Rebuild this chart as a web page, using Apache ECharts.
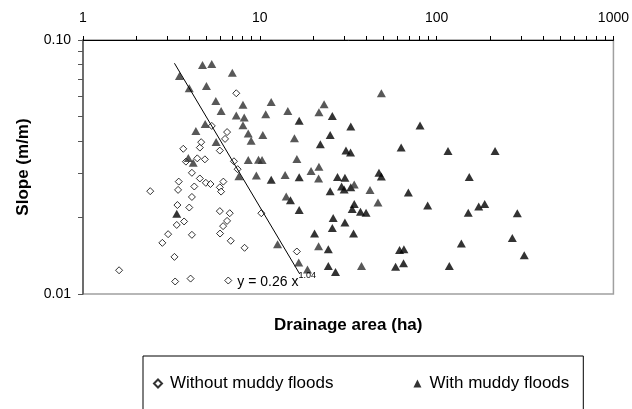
<!DOCTYPE html>
<html><head><meta charset="utf-8">
<script src="https://cdn.jsdelivr.net/npm/echarts@6/dist/echarts.min.js"></script>
<style>html,body{margin:0;padding:0;background:#fff}#c{width:632px;height:409px}</style>
</head><body><div id="c"></div>
<script>
// ---- data ----
const xTickValues = [1,2,3,4,5,6,7,8,9,10,20,30,40,50,60,70,80,90,100,200,300,400,500,600,700,800,900,1000];
const xLabelValues = [1,10,100,1000];
const yTickValues = [0.01,0.02,0.03,0.04,0.05,0.06,0.07,0.08,0.09,0.1];
const yLabelValues = [0.01,0.1];

const withoutFloods = [[1.60,0.0124],[2.40,0.0254],[3.32,0.0112],[4.06,0.0115],[6.63,0.0113],[3.29,0.0140],[2.81,0.0159],[3.03,0.0172],[3.39,0.0187],[3.73,0.0193],[4.13,0.0171],[3.42,0.0224],[3.99,0.0219],[4.13,0.0241],[3.45,0.0257],[3.48,0.0277],[4.26,0.0265],[4.13,0.0300],[4.58,0.0285],[4.95,0.0274],[5.26,0.0271],[5.94,0.0263],[6.04,0.0253],[6.22,0.0277],[3.69,0.0373],[3.82,0.0332],[4.43,0.0342],[4.58,0.0377],[4.66,0.0396],[4.89,0.0339],[5.94,0.0367],[6.36,0.0408],[6.53,0.0434],[5.35,0.0459],[7.14,0.0333],[7.49,0.0310],[5.94,0.0212],[6.76,0.0208],[6.53,0.0194],[6.20,0.0185],[5.96,0.0173],[6.85,0.0162],[8.20,0.0152],[7.36,0.0617],[10.2,0.0208],[16.2,0.0147]];

const withFloodsGrey = [[4.74,0.0797],[5.35,0.0804],[6.99,0.0743],[3.51,0.0722],[3.99,0.0645],[4.99,0.0659],[5.64,0.0575],[6.04,0.0525],[7.36,0.0504],[8.03,0.0556],[8.16,0.0495],[11.6,0.0570],[10.8,0.0510],[8.03,0.0462],[8.60,0.0428],[8.93,0.0401],[10.4,0.0423],[4.91,0.0467],[4.35,0.0438],[5.66,0.0397],[3.94,0.0343],[4.20,0.0329],[8.60,0.0337],[9.83,0.0338],[10.3,0.0337],[7.62,0.0291],[9.56,0.0293],[12.6,0.0157],[14.4,0.0525],[15.7,0.0410],[23.1,0.0558],[21.6,0.0519],[48.7,0.0617],[16.2,0.0340],[13.9,0.0294],[19.5,0.0305],[21.6,0.0317],[21.5,0.0285],[34.2,0.0270],[42.0,0.0257],[46.6,0.0229],[14.1,0.0242],[21.5,0.0154],[16.6,0.0133],[18.6,0.0125],[37.6,0.0129]];

const withFloodsBlack = [[11.6,0.0282],[3.39,0.0207],[16.7,0.0481],[25.7,0.0502],[32.7,0.0456],[25.0,0.0423],[22.0,0.0389],[30.7,0.0367],[32.6,0.0361],[80.6,0.0461],[63.0,0.0377],[16.7,0.0288],[27.5,0.0289],[30.3,0.0287],[29.0,0.0265],[30.0,0.0258],[32.7,0.0263],[25.0,0.0254],[47.2,0.0300],[48.7,0.0290],[69.2,0.0251],[34.2,0.0226],[33.3,0.0216],[37.1,0.0211],[39.9,0.0209],[89.0,0.0223],[14.9,0.0234],[16.7,0.0214],[26.0,0.0199],[25.7,0.0182],[30.3,0.0191],[33.9,0.0173],[20.4,0.0173],[24.4,0.0150],[24.4,0.0129],[26.8,0.0122],[58.6,0.0128],[65.0,0.0132],[61.7,0.0149],[65.3,0.0150],[116,0.0366],[214,0.0366],[153,0.0289],[151,0.0209],[173,0.0221],[187,0.0226],[286,0.0208],[138,0.0158],[268,0.0166],[313,0.0142],[118,0.0129]];

const trendLine = [[3.29,0.0810],[16.8,0.0120]];
const equationText = 'y = 0.26 x';
const equationExponent = '1.04';
const equationAnchor = [7.46, 0.01135];

// ---- chart ----
const FONT = '"Liberation Sans", Arial, sans-serif';
const chart = echarts.init(document.getElementById('c'), null, {renderer:'canvas'});
chart.setOption({
  animation:false,
  backgroundColor:'#fff',
  textStyle:{fontFamily:FONT},
  grid:{left:83, top:40, right:15, bottom:115, show:true, borderColor:'#a0a0a0', borderWidth:1.5, backgroundColor:'transparent'},
  legend:{
    left:143, top:356, orient:'horizontal',
    data:['Without muddy floods','With muddy floods'],
    itemWidth:8, itemHeight:8, itemGap:80,
    padding:[19,14,40,10],
    borderColor:'#000', borderWidth:1,
    textStyle:{fontSize:17, color:'#000', fontFamily:FONT, padding:[0,0,0,3]}
  },
  xAxis:[
    {type:'log', logBase:10, min:1, max:1000, position:'top',
     axisLine:{show:true, lineStyle:{color:'#000', width:1}},
     axisTick:{show:true, length:4, customValues:xTickValues, lineStyle:{color:'#000'}},
     axisLabel:{customValues:xLabelValues, formatter:v=>String(Math.round(v)), color:'#000', fontSize:14, margin:15, fontFamily:FONT},
     splitLine:{show:false}},
    {type:'log', logBase:10, min:1, max:1000, position:'bottom',
     axisLine:{show:false}, axisTick:{show:false}, axisLabel:{show:false}, splitLine:{show:false},
     name:'Drainage area (ha)', nameLocation:'middle', nameGap:23,
     nameTextStyle:{fontSize:17, fontWeight:'bold', color:'#000', fontFamily:FONT}}
  ],
  yAxis:[
    {type:'log', logBase:10, min:0.01, max:0.1,
     axisLine:{show:true, lineStyle:{color:'#555', width:1.5}},
     axisTick:{show:true, length:5, customValues:yTickValues, lineStyle:{color:'#555'}},
     axisLabel:{customValues:yLabelValues, formatter:v=>Number(v).toFixed(2), color:'#000', fontSize:14, margin:12, fontFamily:FONT},
     splitLine:{show:false},
     name:'Slope (m/m)', nameLocation:'middle', nameGap:51, nameRotate:90,
     nameTextStyle:{fontSize:17, fontWeight:'bold', color:'#000', fontFamily:FONT}}
  ],
  series:[
    {name:'Without muddy floods', type:'scatter', data:withoutFloods, symbol:'diamond', symbolSize:7,
     itemStyle:{color:'#fff', borderColor:'#000', borderWidth:1}, z:3},
    {name:'With muddy floods', type:'scatter', data:withFloodsBlack, symbol:'triangle', symbolSize:[9,8],
     itemStyle:{color:'#000'}, z:4},
    {name:'With muddy floods', type:'scatter', data:withFloodsGrey, symbol:'triangle', symbolSize:[9,8],
     itemStyle:{color:'#2e2e2e'}, z:4},
    {name:'trend', type:'line', data:trendLine, showSymbol:false, symbol:'none',
     lineStyle:{color:'#000', width:1}, z:5, silent:true}
  ]
});
const p = chart.convertToPixel({xAxisIndex:0, yAxisIndex:0}, equationAnchor);
chart.setOption({graphic:[{type:'text', x:p[0], y:p[1], z:10,
  style:{text:'{a|'+equationText+'}{b|'+equationExponent+'}', verticalAlign:'middle', align:'left',
    rich:{a:{fontSize:14, lineHeight:18, verticalAlign:'bottom', fill:'#000', fontFamily:FONT},
          b:{fontSize:9, lineHeight:10, verticalAlign:'top', fill:'#000', fontFamily:FONT}}}}]});
</script></body></html>
